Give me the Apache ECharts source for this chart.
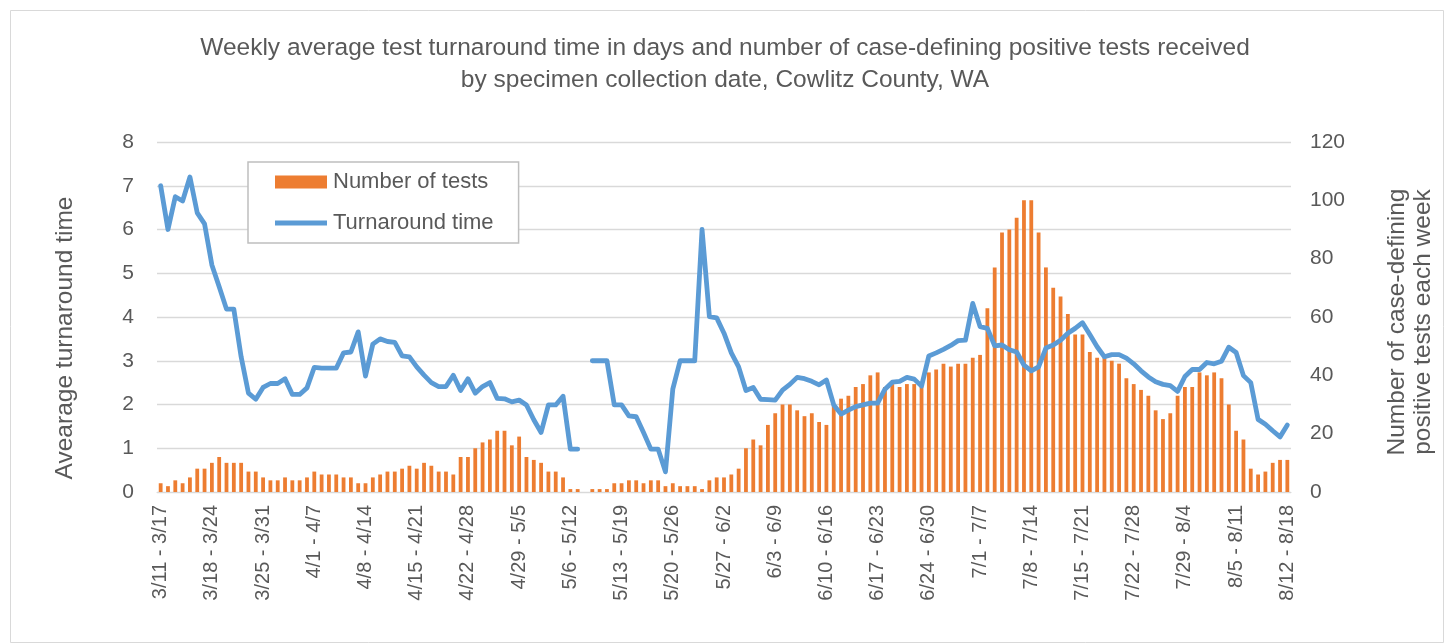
<!DOCTYPE html>
<html>
<head>
<meta charset="utf-8">
<script src="https://cdn.jsdelivr.net/npm/echarts@6/dist/echarts.min.js"></script>
<style>
html,body{margin:0;padding:0;background:#fff;}
#chart{width:1450px;height:644px;}
</style>
</head>
<body>
<div id="chart"></div>
<script>
const categories = [
"3/11 - 3/17","3/12 - 3/18","3/13 - 3/19","3/14 - 3/20","3/15 - 3/21","3/16 - 3/22","3/17 - 3/23","3/18 - 3/24","3/19 - 3/25","3/20 - 3/26","3/21 - 3/27","3/22 - 3/28","3/23 - 3/29","3/24 - 3/30","3/25 - 3/31",
"3/26 - 4/1","3/27 - 4/2","3/28 - 4/3","3/29 - 4/4","3/30 - 4/5","3/31 - 4/6","4/1 - 4/7","4/2 - 4/8","4/3 - 4/9","4/4 - 4/10","4/5 - 4/11","4/6 - 4/12","4/7 - 4/13","4/8 - 4/14","4/9 - 4/15","4/10 - 4/16","4/11 - 4/17","4/12 - 4/18","4/13 - 4/19","4/14 - 4/20","4/15 - 4/21","4/16 - 4/22","4/17 - 4/23","4/18 - 4/24","4/19 - 4/25","4/20 - 4/26","4/21 - 4/27","4/22 - 4/28","4/23 - 4/29","4/24 - 4/30",
"4/25 - 5/1","4/26 - 5/2","4/27 - 5/3","4/28 - 5/4","4/29 - 5/5","4/30 - 5/6","5/1 - 5/7","5/2 - 5/8","5/3 - 5/9","5/4 - 5/10","5/5 - 5/11","5/6 - 5/12","5/7 - 5/13","5/8 - 5/14","5/9 - 5/15","5/10 - 5/16","5/11 - 5/17","5/12 - 5/18","5/13 - 5/19","5/14 - 5/20","5/15 - 5/21","5/16 - 5/22","5/17 - 5/23","5/18 - 5/24","5/19 - 5/25","5/20 - 5/26","5/21 - 5/27","5/22 - 5/28","5/23 - 5/29","5/24 - 5/30","5/25 - 5/31",
"5/26 - 6/1","5/27 - 6/2","5/28 - 6/3","5/29 - 6/4","5/30 - 6/5","5/31 - 6/6","6/1 - 6/7","6/2 - 6/8","6/3 - 6/9","6/4 - 6/10","6/5 - 6/11","6/6 - 6/12","6/7 - 6/13","6/8 - 6/14","6/9 - 6/15","6/10 - 6/16","6/11 - 6/17","6/12 - 6/18","6/13 - 6/19","6/14 - 6/20","6/15 - 6/21","6/16 - 6/22","6/17 - 6/23","6/18 - 6/24","6/19 - 6/25","6/20 - 6/26","6/21 - 6/27","6/22 - 6/28","6/23 - 6/29","6/24 - 6/30",
"6/25 - 7/1","6/26 - 7/2","6/27 - 7/3","6/28 - 7/4","6/29 - 7/5","6/30 - 7/6","7/1 - 7/7","7/2 - 7/8","7/3 - 7/9","7/4 - 7/10","7/5 - 7/11","7/6 - 7/12","7/7 - 7/13","7/8 - 7/14","7/9 - 7/15","7/10 - 7/16","7/11 - 7/17","7/12 - 7/18","7/13 - 7/19","7/14 - 7/20","7/15 - 7/21","7/16 - 7/22","7/17 - 7/23","7/18 - 7/24","7/19 - 7/25","7/20 - 7/26","7/21 - 7/27","7/22 - 7/28","7/23 - 7/29","7/24 - 7/30","7/25 - 7/31",
"7/26 - 8/1","7/27 - 8/2","7/28 - 8/3","7/29 - 8/4","7/30 - 8/5","7/31 - 8/6","8/1 - 8/7","8/2 - 8/8","8/3 - 8/9","8/4 - 8/10","8/5 - 8/11","8/6 - 8/12","8/7 - 8/13","8/8 - 8/14","8/9 - 8/15","8/10 - 8/16","8/11 - 8/17","8/12 - 8/18"
];

const numberOfTests = [
3,2,4,3,5,8,8,10,12,10,10,10,7,7,5,4,4,5,4,4,
5,7,6,6,6,5,5,3,3,5,6,7,7,8,9,8,10,9,7,7,
6,12,12,15,17,18,21,21,16,19,12,11,10,7,7,5,1,1,0,1,
1,1,3,3,4,4,3,4,4,2,3,2,2,2,1,4,5,5,6,8,
15,18,16,23,27,30,30,28,26,27,24,23,30,32,33,36,37,40,41,36,
37,36,37,37,36,41,42,44,43,44,44,46,47,63,77,89,90,94,100,100,
89,77,70,67,61,54,54,48,46,46,45,44,39,37,35,33,28,25,27,33,
36,36,41,40,41,39,30,21,18,8,6,7,10,11,11
];

const turnaroundTime = [
7.0,6.0,6.75,6.65,7.2,6.38,6.13,5.19,4.69,4.18,4.18,3.09,2.26,2.12,2.39,2.48,2.48,2.59,2.23,2.23,
2.38,2.85,2.83,2.83,2.83,3.18,3.2,3.66,2.65,3.38,3.5,3.44,3.42,3.11,3.09,2.86,2.67,2.5,2.41,2.41,
2.67,2.32,2.59,2.26,2.41,2.5,2.14,2.13,2.06,2.1,1.99,1.65,1.36,1.99,1.99,2.19,0.98,0.98,null,3.0,
3.0,3.0,1.99,1.99,1.74,1.72,1.36,0.98,0.98,0.46,2.35,3.0,3.0,3.0,6.0,4.01,3.98,3.63,3.18,2.86,
2.32,2.39,2.12,2.11,2.1,2.33,2.46,2.62,2.59,2.53,2.45,2.56,1.99,1.78,1.87,1.95,1.99,2.03,2.03,2.35,
2.51,2.53,2.62,2.58,2.42,3.11,3.18,3.26,3.35,3.46,3.47,4.31,3.78,3.74,3.34,3.36,3.25,3.2,2.9,2.77,
2.86,3.29,3.36,3.47,3.63,3.74,3.87,3.6,3.32,3.09,3.14,3.14,3.06,2.93,2.77,2.63,2.52,2.46,2.43,2.3,
2.64,2.8,2.8,2.96,2.93,2.99,3.31,3.19,2.66,2.5,1.66,1.55,1.4,1.26,1.53
];

const titleLines = ["Weekly average test turnaround time in days and number of case-defining positive tests received", "by specimen collection date, Cowlitz County, WA"];
const leftAxisName = "Avearage turnaround time";
const rightAxisName = ["Number of case-defining", "positive tests each week"];
const seriesNames = ["Number of tests", "Turnaround time"];

const FONT = "Liberation Sans";
const TXT = "#595959";
const chart = echarts.init(document.getElementById('chart'), null, {renderer: 'canvas'});
chart.setOption({
  animation: false,
  backgroundColor: '#ffffff',
  textStyle: {fontFamily: FONT},
  title: {
    text: titleLines.join('\n'),
    left: 'center', top: 27,
    textStyle: {fontFamily: FONT, fontSize: 24.5, fontWeight: 'normal', color: TXT, lineHeight: 32}
  },
  legend: {
    orient: 'vertical',
    left: 248, top: 162,
    padding: [9, 25, 9, 27],
    itemGap: 19,
    itemWidth: 52, itemHeight: 13,
    symbolKeepAspect: true,
    backgroundColor: '#fff',
    borderColor: '#bfbfbf', borderWidth: 1.5, borderRadius: 0,
    textStyle: {fontFamily: FONT, fontSize: 22, lineHeight: 22, color: TXT, padding: [0,0,0,1]},
    data: [
      {name: seriesNames[0], icon: 'rect'},
      {name: seriesNames[1], icon: 'path://M0,0 L52,0 L52,5 L0,5 Z'}
    ]
  },
  grid: {left: 157, right: 159, top: 142, bottom: 152, containLabel: false},
  xAxis: {
    type: 'category',
    data: categories,
    boundaryGap: true,
    axisLine: {show: true, lineStyle: {color: '#d9d9d9', width: 1.2}},
    axisTick: {show: false},
    axisLabel: {interval: 6, rotate: 90, margin: 13, fontFamily: FONT, fontSize: 20, color: TXT}
  },
  yAxis: [
    {
      type: 'value', min: 0, max: 8, interval: 1,
      axisLine: {show: false}, axisTick: {show: false},
      splitLine: {show: true, lineStyle: {color: '#d9d9d9', width: 1.3}},
      axisLabel: {margin: 23, fontFamily: FONT, fontSize: 21, color: TXT}
    },
    {
      type: 'value', min: 0, max: 120, interval: 20,
      axisLine: {show: false}, axisTick: {show: false},
      splitLine: {show: false},
      axisLabel: {margin: 19, fontFamily: FONT, fontSize: 21, color: TXT}
    }
  ],
  series: [
    {
      name: seriesNames[0], type: 'bar', yAxisIndex: 1,
      data: numberOfTests,
      barWidth: 3.8,
      itemStyle: {color: '#ED7D31'},
      z: 2
    },
    {
      name: seriesNames[1], type: 'line', yAxisIndex: 0,
      data: turnaroundTime,
      symbol: 'none', showSymbol: false,
      connectNulls: false,
      lineStyle: {color: '#5B9BD5', width: 4.8, join: 'round', cap: 'round'},
      itemStyle: {color: '#5B9BD5'},
      z: 3
    }
  ],
  graphic: [
    {type: 'rect', left: 8, top: 8, shape: {width: 1433, height: 632}, style: {fill: 'none', stroke: '#d9d9d9', lineWidth: 1}, silent: true, z: -1},
    {type: 'text', x: 65, y: 338, rotation: Math.PI/2, style: {text: leftAxisName, fontFamily: FONT, fontSize: 24.5, fill: TXT, textAlign: 'center', textVerticalAlign: 'middle'}},
    {type: 'text', x: 1397, y: 322, rotation: Math.PI/2, style: {text: rightAxisName[0], fontFamily: FONT, fontSize: 24.5, fill: TXT, textAlign: 'center', textVerticalAlign: 'middle'}},
    {type: 'text', x: 1423, y: 322, rotation: Math.PI/2, style: {text: rightAxisName[1], fontFamily: FONT, fontSize: 24.5, fill: TXT, textAlign: 'center', textVerticalAlign: 'middle'}}
  ]
});
</script>
</body>
</html>
